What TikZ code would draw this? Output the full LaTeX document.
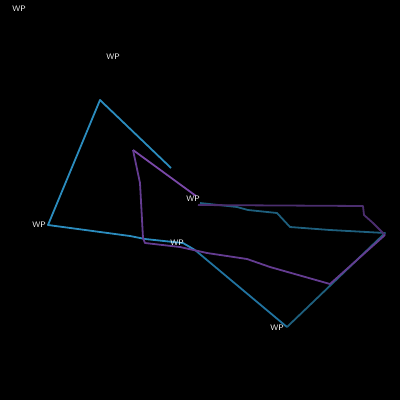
\documentclass[tikz,border=0pt]{standalone}
\begin{document}
\begin{tikzpicture}[x=1pt, y=-1pt, line join=round,
  wplabel/.style={text=white, font=\sffamily\fontsize{8}{9}\selectfont, inner sep=0pt},
  track/.style={line width=1.8pt}]
\definecolor{lightblue}{RGB}{43, 140, 190}
\definecolor{midblue}{RGB}{33, 115, 160}
\definecolor{tealblue}{RGB}{30, 95, 125}
\definecolor{lightpurple}{RGB}{122, 72, 168}
\definecolor{midpurple}{RGB}{100, 60, 145}
\definecolor{darkpurple}{RGB}{75, 46, 110}
\fill[black] (0,0) rectangle (400,400);
\useasboundingbox (0,0) rectangle (400,400);
% waypoints
\coordinate (b1) at (171,168);
\coordinate (b2) at (100,100);
\coordinate (b3) at (48,225);
\coordinate (b4) at (145,239);
\coordinate (b5) at (195,250);
\coordinate (b6) at (287,327);
\coordinate (b7) at (385,233);
\coordinate (b8) at (200,203);
\coordinate (p1) at (133,150);
\coordinate (p2) at (196,196);
\coordinate (p3) at (198,205);
\coordinate (p4) at (363,206);
\coordinate (p5) at (385,235);
\coordinate (p6) at (330,284);
\coordinate (p7) at (145,243);
% blue track
\draw[track, lightblue] (b1) -- (b2) -- (b3) -- (130,236) -- (b4) -- (183,243) -- (b5);
\draw[track, midblue] (b5) -- (b6);
\draw[track, tealblue] (b6) -- (b7) -- (330,230) -- (290,227) -- (277,213)
  -- (248,210) -- (237,207) -- (b8);
% purple track
\draw[track, lightpurple] (p1) -- (p2);
\draw[track, darkpurple] (p3) -- (p4) -- (364,215) -- (373,223) -- (p5);
\draw[track, midpurple] (p5) -- (p6) -- (270,267) -- (247,259) -- (207,253)
  -- (180,247) -- (p7) -- (143,238) -- (140,183) -- (p1);
% labels
\node[wplabel] (wp1) at (19,9) {WP};
\node[wplabel] (wp2) at (113,57) {WP};
\node[wplabel] (wp3) at (39,225) {WP};
\node[wplabel] (wp4) at (193,199) {WP};
\node[wplabel] (wp5) at (177,243) {WP};
\node[wplabel] (wp6) at (277,328) {WP};
\end{tikzpicture}
\end{document}
